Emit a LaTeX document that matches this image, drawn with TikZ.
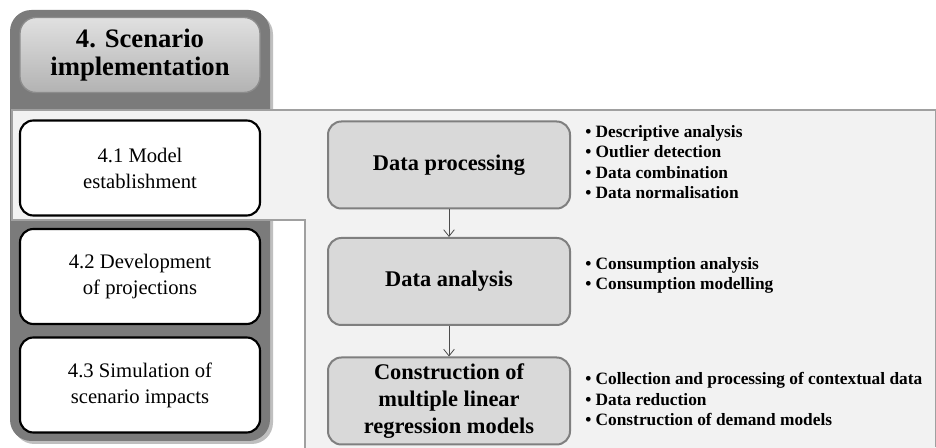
\documentclass[tikz,border=0pt]{standalone}
\usepackage{fontspec}
\setmainfont{Liberation Serif}
\usetikzlibrary{arrows.meta}
\definecolor{darkpanel}{HTML}{7B7B7B}
\definecolor{lightpanel}{HTML}{F2F2F2}
\definecolor{panelline}{HTML}{A0A0A0}
\definecolor{stepfill}{HTML}{D9D9D9}
\definecolor{stepline}{HTML}{7F7F7F}
\newlength{\unitpx}
\setlength{\unitpx}{0.75pt}
\tikzset{
  subbox/.style={draw=black, line width=1.6pt, fill=white, rounded corners=10pt,
    minimum width=240\unitpx, minimum height=95\unitpx, align=center,
    font=\fontsize{15.5}{19.5}\selectfont, inner sep=0pt},
  stepbox/.style={draw=stepline, line width=1.5pt, fill=stepfill, rounded corners=10pt,
    minimum width=242\unitpx, minimum height=87\unitpx, align=center,
    font=\fontsize{16.8}{20}\selectfont\bfseries, inner sep=0pt},
  bullets/.style={anchor=north west, align=left, inner sep=0pt,
    font=\fontsize{13}{15.4}\selectfont\bfseries},
  flow/.style={-{Straight Barb[length=5pt,width=8pt]}, draw=black!70, line width=0.6pt}
}
\begin{document}
\begin{tikzpicture}[x=0.75pt, y=-0.75pt]
\useasboundingbox (0,0) rectangle (936,448);
\fill[white] (0,0) rectangle (936,448);
% dark left panel
\fill[black!25] (13,13) [rounded corners=16pt] rectangle (273,444);
\fill[darkpanel] (10,10) [rounded corners=16pt] rectangle (270,441);
% light panel
\path[fill=lightpanel, draw=panelline, line width=1pt]
  (12,110) -- (936,110) -- (936,448) -- (305,448) -- (305,220) -- (12,220) -- cycle;
\fill[lightpanel] (305.5,449) rectangle (936,447);
% title
\node[draw=black!45, line width=1pt, rounded corners=12pt, top color=white!88!black,
  bottom color=black!30, minimum width=240\unitpx, minimum height=75\unitpx,
  align=center, inner sep=0pt, font=\fontsize{20}{21}\selectfont\bfseries]
  (title) at (140,55) {4. Scenario\\implementation};
% sub boxes
\node[subbox] (s1) at (140,168) {4.1 Model\\establishment};
\node[subbox] (s2) at (140,276.5) {4.2 Development\\of projections};
\node[subbox] (s3) at (140,385) {4.3 Simulation of\\scenario impacts};
% steps
\node[stepbox] (p1) at (449,165) {Data processing};
\node[stepbox] (p2) at (449,281.5) {Data analysis};
\node[stepbox] (p3) at (449,401) {Construction of\\multiple linear\\regression models};
\draw[flow] (p1) -- (p2);
\draw[flow] (p2) -- (p3);
% bullets
\node[bullets] (b1) at (585,125) {\textbullet{} Descriptive analysis\\\textbullet{} Outlier detection\\\textbullet{} Data combination\\\textbullet{} Data normalisation};
\node[bullets] (b2) at (585,257) {\textbullet{} Consumption analysis\\\textbullet{} Consumption modelling};
\node[bullets] (b3) at (585,372) {\textbullet{} Collection and processing of contextual data\\\textbullet{} Data reduction\\\textbullet{} Construction of demand models};
\end{tikzpicture}
\end{document}
